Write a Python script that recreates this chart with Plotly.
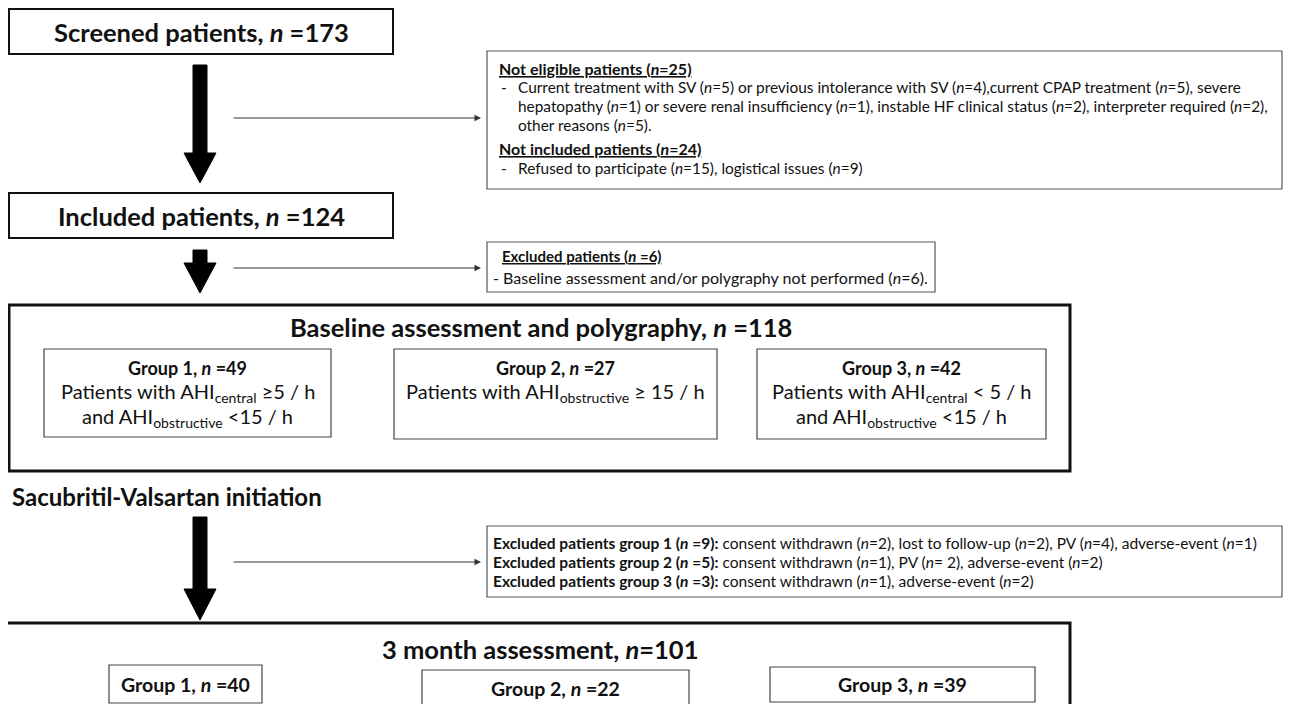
import plotly.graph_objects as go

# ---------------- data ----------------
stage_labels = ["Screened patients", "Included patients",
                "Baseline assessment and polygraphy", "3 month assessment"]
stage_n = [173, 124, 118, 101]

group_labels = ["Group 1", "Group 2", "Group 3"]
group_baseline_n = [49, 27, 42]
group_followup_n = [40, 22, 39]
group_criteria = [
    ["Patients with AHI<sub>central</sub> \u22655 / h", "and AHI<sub>obstructive</sub> <15 / h"],
    ["Patients with AHI<sub>obstructive</sub> \u2265 15 / h"],
    ["Patients with AHI<sub>central</sub> < 5 / h", "and AHI<sub>obstructive</sub> <15 / h"],
]

not_eligible_n = 25
not_eligible_lines = [
    "Current treatment with SV (<i>n</i>=5) or previous intolerance with SV (<i>n</i>=4),current CPAP treatment (<i>n</i>=5), severe",
    "hepatopathy (<i>n</i>=1) or severe renal insufficiency (<i>n</i>=1), instable HF clinical status (<i>n</i>=2), interpreter required (<i>n</i>=2),",
    "other reasons (<i>n</i>=5).",
]
not_included_n = 24
not_included_line = "Refused to participate (<i>n</i>=15), logistical issues (<i>n</i>=9)"

excluded_baseline_n = 6
excluded_baseline_line = "- Baseline assessment and/or polygraphy not performed (<i>n</i>=6)."

treatment_label = "Sacubritil-Valsartan initiation"
excluded_group_n = [9, 5, 3]
excluded_group_reasons = [
    "consent withdrawn (<i>n</i>=2), lost to follow-up (<i>n</i>=2), PV (<i>n</i>=4), adverse-event (<i>n</i>=1)",
    "consent withdrawn (<i>n</i>=1), PV (<i>n</i>= 2), adverse-event (<i>n</i>=2)",
    "consent withdrawn (<i>n</i>=1), adverse-event (<i>n</i>=2)",
]

# ---------------- drawing ----------------
FONT = "Lato"
W, H = 1291, 712
OFF = 8  # page body margin: data coordinates == screen pixels
fig = go.Figure()
shapes = []
ann = []


def rect(x0, y0, x1, y1, w=2, c="#111"):
    shapes.append(dict(type="rect", xref="x", yref="y", x0=x0, y0=y0, x1=x1, y1=y1,
                       line=dict(color=c, width=w), fillcolor="rgba(0,0,0,0)"))


def text(x, y, s, size, xanchor="center", color="#111"):
    ann.append(dict(x=x, y=y, xref="x", yref="y", text=s, showarrow=False,
                    xanchor=xanchor, yanchor="middle",
                    font=dict(family=FONT, size=size, color=color)))


def big_arrow(xc, y_top, y_head, y_tip, shaft=7, head=16):
    path = (f"M {xc-shaft},{y_top} L {xc+shaft},{y_top} L {xc+shaft},{y_head} "
            f"L {xc+head},{y_head} L {xc},{y_tip} L {xc-head},{y_head} "
            f"L {xc-shaft},{y_head} Z")
    shapes.append(dict(type="path", xref="x", yref="y", path=path,
                       fillcolor="#000", line=dict(color="#000", width=1)))


def thin_arrow(x0, x1, y):
    ann.append(dict(x=x1, y=y, ax=x0, ay=y, xref="x", yref="y", axref="x", ayref="y",
                    text="", showarrow=True, arrowhead=2, arrowsize=1.3,
                    arrowwidth=1, arrowcolor="#333"))


XR = 1282  # right edge of the wide side boxes (edge of the visible page)

# Stage 1: screened
rect(9, 9, 393, 54, w=2)
text(201, 32, f"<b>{stage_labels[0]}, <i>n</i> ={stage_n[0]}</b>", 25.5)
big_arrow(200, 65, 153, 183)
thin_arrow(232, 481, 118)

# not eligible / not included box
SM = 15.4
rect(487, 51, XR, 189, w=1.2, c="#555")
text(497, 68, f"<u><b>Not eligible patients (<i>n</i>={not_eligible_n})</b></u>", 16, "left")
text(499, 87, "-", SM, "left")
for i, line in enumerate(not_eligible_lines):
    text(516, 87 + 19 * i, line, SM, "left")
text(497, 148, f"<u><b>Not included patients (<i>n</i>={not_included_n})</b></u>", 16, "left")
text(499, 168, "-", SM, "left")
text(516, 168, not_included_line, SM, "left")

# Stage 2: included
rect(9, 193, 393, 238, w=2)
text(201, 216, f"<b>{stage_labels[1]}, <i>n</i> ={stage_n[1]}</b>", 25.5)
big_arrow(200, 250, 263, 293)
thin_arrow(232, 481, 268)

rect(487, 242, 935, 292, w=1.2, c="#555")
text(500, 256, f"<u><b>Excluded patients (<i>n</i> ={excluded_baseline_n})</b></u>", 15, "left")
text(491, 277, excluded_baseline_line, 16, "left")

# Stage 3: baseline
rect(9, 305, 1070, 471, w=3)
text(541, 327, f"<b>{stage_labels[2]}, <i>n</i> ={stage_n[2]}</b>", 25.5)
gb = [(44, 349, 331, 437), (394, 349, 717, 439), (757, 349, 1046, 439)]
for (x0, y0, x1, y1), lab, n, crit in zip(gb, group_labels, group_baseline_n, group_criteria):
    rect(x0, y0, x1, y1, w=1.2, c="#444")
    xc = (x0 + x1) / 2
    text(xc, 368, f"<b>{lab}, <i>n</i> ={n}</b>", 18)
    for j, c in enumerate(crit):
        text(xc, 392 + 25 * j, c, 20)

# treatment
text(10, 496, f"<b>{treatment_label}</b>", 24, "left")
big_arrow(200, 517, 589, 620)
thin_arrow(232, 481, 562)

rect(487, 526, XR, 597, w=1.2, c="#555")
for i, (n, r) in enumerate(zip(excluded_group_n, excluded_group_reasons)):
    text(491, 543 + 19 * i,
         f"<b>Excluded patients group {i+1} (<i>n</i> ={n}):</b> {r}", 15.5, "left")

# Stage 4: 3 month
rect(5, 623, 1070, 730, w=3)
text(540, 649, f"<b>{stage_labels[3]}, <i>n</i>={stage_n[3]}</b>", 25.5)
gf = [(109, 665, 262, 703), (422, 670, 689, 706), (770, 667, 1035, 702)]
for (x0, y0, x1, y1), lab, n in zip(gf, group_labels, group_followup_n):
    rect(x0, y0, x1, y1, w=1.2, c="#444")
    text((x0 + x1) / 2, (y0 + y1) / 2, f"<b>{lab}, <i>n</i> ={n}</b>", 19.5)

fig.update_layout(
    width=W - 2 * OFF, height=H - 2 * OFF, margin=dict(l=0, r=0, t=0, b=0),
    paper_bgcolor="white", plot_bgcolor="white",
    xaxis=dict(range=[OFF, W - OFF], visible=False, fixedrange=True),
    yaxis=dict(range=[H - OFF, OFF], visible=False, fixedrange=True),
    shapes=shapes, annotations=ann, showlegend=False,
)
fig.write_html("out.html")
